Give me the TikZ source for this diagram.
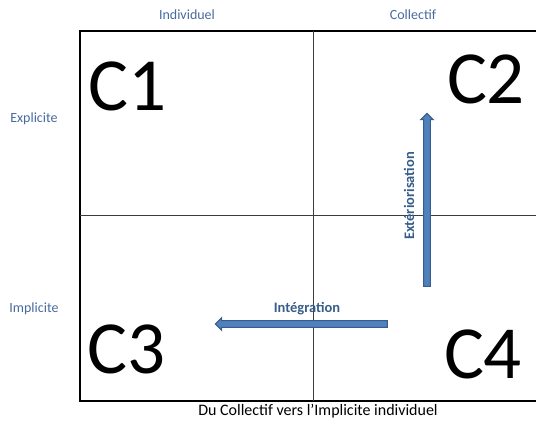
\documentclass[tikz,border=0pt]{standalone}
\usepackage{fontspec}
\setmainfont{Carlito}
\usetikzlibrary{shapes.arrows}

\definecolor{labelblue}{RGB}{72,106,160}
\definecolor{arrowfill}{RGB}{79,129,189}
\definecolor{arrowline}{RGB}{56,93,138}
\definecolor{rulegray}{RGB}{60,60,60}

\tikzset{axislabel/.style={text=labelblue,font=\fontsize{14}{16}\selectfont},
	quadrant/.style={font=\fontsize{75}{80}\selectfont,inner sep=0pt},
	arrowlabel/.style={text=arrowline,font=\bfseries\fontsize{14.5}{16}\selectfont},
	blockarrow/.style={single arrow,draw=arrowline,fill=arrowfill,line width=1pt,
		inner sep=2.8pt,minimum width=12.5pt,single arrow head extend=3pt}
}
\tikzstyle{divider}=[draw=rulegray,line width=0.8pt]

\begin{document}
\begin{tikzpicture}[x=1pt,y=-1pt]
	\useasboundingbox (0,0) rectangle (536,423);
	% frame and quadrant lines
	\draw[line width=1.4pt] (540,31) -- (80,31) -- (80,401) -- (540,401);
	\draw[divider] (313,31) -- (313,401);
	\draw[divider] (80,215) -- (540,215);
	
	\node (ind)  [axislabel] at (187,15)  {Individuel};
	\node (coll) [axislabel] at (413,15)  {Collectif};
	\node (expl) [axislabel] at (34,119)  {Explicite};
	\node (impl) [axislabel] at (34,309)  {Implicite};
	\node (cap)  [axislabel,text=black,font=\fontsize{16}{18}\selectfont] at (318,411) {Du Collectif vers l’Implicite individuel};
	
	\node (C1) [quadrant] at (128,86)  {C1};
	\node (C2) [quadrant] at (486,79)  {C2};
	\node (C3) [quadrant] at (127,349) {C3};
	\node (C4) [quadrant] at (483,354) {C4};
	
	\node (ext) [blockarrow,rotate=90,minimum height=173pt] at (427,201.5) {};
	\node (extlab) [arrowlabel,rotate=90] at (409,196) {Extériorisation};
	\node (integ) [blockarrow,rotate=180,minimum height=172pt] at (303,324) {};
	\node (integlab) [arrowlabel] at (307,309) {Intégration};
\end{tikzpicture}
\end{document}
